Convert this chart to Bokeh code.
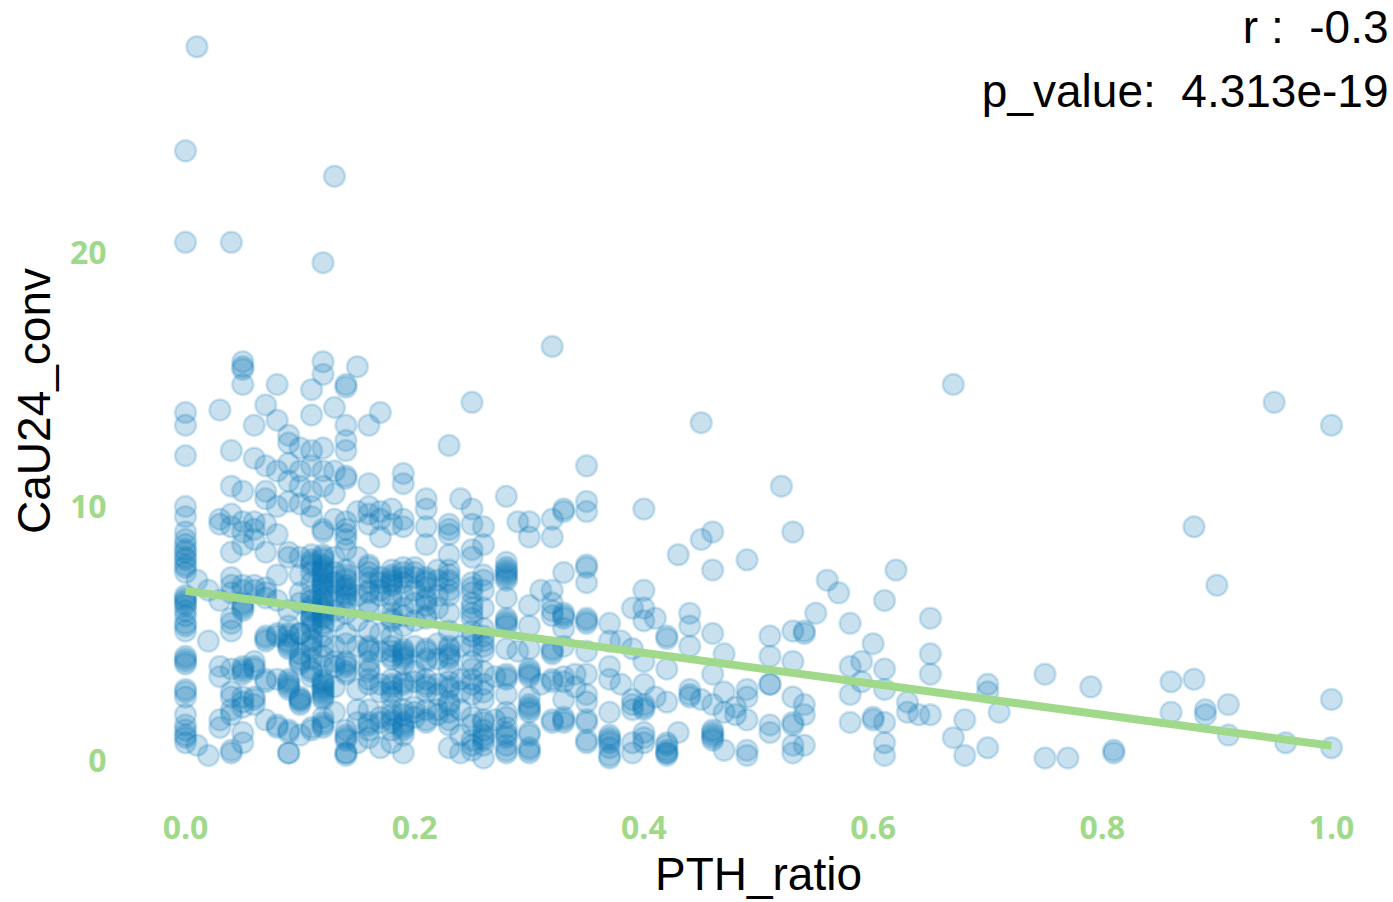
from bokeh.plotting import figure
from bokeh.models import ColumnDataSource, Label, FixedTicker, Range1d, NumeralTickFormatter
from bokeh.embed import file_html
from bokeh.resources import INLINE

pth_levels = [0.00,0.01,0.02,0.03,0.04,0.05,0.06,0.07,0.08,0.09,
              0.10,0.11,0.12,0.13,0.14,0.15,0.16,0.17,0.18,0.19,
              0.20,0.21,0.22,0.23,0.24,0.25,0.26,0.27,0.28,0.29,
              0.30,0.31,0.32,0.33,0.34,0.35,0.37,0.38,0.39,0.40,
              0.41,0.42,0.43,0.44,0.45,0.46,0.47,0.48,0.49,0.51,
              0.52,0.53,0.54,0.55,0.56,0.57,0.58,0.59,0.60,0.61,
              0.62,0.63,0.64,0.65,0.67,0.68,0.70,0.71,0.75,0.77,
              0.79,0.81,0.86,0.88,0.89,0.90,0.91,0.95,0.96,1.00]
cau24_by_level = [
 [24.0,20.4,13.7,13.2,12.0,10.0,9.6,9.0,8.7,8.5,8.3,8.0,7.7,7.4,6.5,6.3,6.1,5.7,5.4,5.1,4.1,3.9,2.8,2.5,1.8,1.4,1.0,0.7],
 [28.1,7.1,0.6],
 [6.7,4.7,0.2],
 [13.8,9.5,9.3,6.3,3.7,3.3,1.6,1.3],
 [20.4,12.2,10.8,9.7,9.2,8.2,7.2,6.9,6.6,5.6,5.1,3.6,2.7,2.0,1.8,0.4,0.3],
 [15.7,15.5,15.4,14.8,10.6,9.4,9.0,8.5,6.9,6.7,6.2,6.0,3.7,3.6,2.5,2.1,1.1,0.7],
 [13.2,11.9,9.4,9.1,8.7,6.9,6.7,3.9,2.4,2.2],
 [14.0,11.6,10.6,10.3,9.3,8.2,6.8,4.9,4.7,3.2,1.6],
 [14.8,13.4,11.4,10.0,8.9,7.3,6.3,5.0,3.2,1.4],
 [12.8,12.5,11.7,11.0,10.2,8.2,8.0,5.9,5.3,5.0,4.6,4.4,3.2,3.0,2.8,1.2,0.3,0.3],
 [12.3,11.4,10.8,10.1,8.0,7.3,6.6,6.2,5.0,4.0,3.8,2.4,2.2,1.0],
 [14.6,13.6,12.2,11.6,10.6,10.0,9.6,8.1,7.8,7.4,7.0,6.0,5.6,5.2,4.8,4.4,4.0,3.6,1.2],
 [19.6,15.7,15.2,12.3,11.4,10.8,9.1,9.0,8.0,7.7,7.5,7.3,7.1,6.9,6.7,6.3,5.9,5.7,5.3,4.9,4.5,4.1,3.7,3.1,2.8,2.5,1.7,1.3],
 [23.0,13.9,11.4,10.5,9.5,8.0,7.0,6.5,5.5,4.5,3.9,2.9],
 [14.8,14.7,13.2,12.6,12.2,11.2,11.1,9.4,9.1,8.9,8.7,8.3,7.2,6.8,6.6,6.2,5.8,5.0,4.6,3.7,3.5,1.0,0.8,0.3,0.2],
 [15.5,9.8,8.0,6.5,4.5,2.0,1.5,0.7],
 [13.2,10.9,10.0,9.7,9.3,7.6,7.2,6.6,6.2,5.1,4.5,4.3,3.5,3.2,1.5,1.2,0.9],
 [13.7,9.8,9.5,8.8,7.0,6.5,5.0,3.0,2.7,1.7,0.5],
 [9.9,9.3,7.5,7.2,7.0,6.5,5.8,5.5,4.3,4.0,3.0,2.7,2.0,1.6,0.7],
 [11.3,10.9,9.5,9.2,7.6,7.2,7.0,6.5,6.0,5.3,4.2,4.0,3.8,3.1,2.8,1.8,1.4,1.0,0.3],
 [7.6,7.4,6.7,5.5,4.5,2.1,1.7],
 [10.3,9.9,9.2,8.5,7.2,7.0,6.4,6.1,5.6,4.3,3.9,3.2,2.7,2.0,1.5],
 [7.5,6.5,4.0,3.0,2.0],
 [12.4,9.3,9.1,8.9,8.1,7.5,7.3,6.7,6.5,5.8,5.1,4.4,4.0,3.6,2.8,2.3,1.6,0.5],
 [10.3,3.2,2.0,0.3],
 [14.1,9.9,9.3,8.3,8.0,7.0,6.8,6.2,5.8,4.9,3.9,3.6,3.0,1.7,0.6,0.4],
 [9.2,8.5,7.3,7.1,6.7,6.0,5.2,4.7,4.3,3.0,2.4,1.6,1.5,0.9,0.8,0.1],
 [3.3,1.6],
 [10.4,7.8,7.6,7.4,7.2,7.1,6.4,5.6,5.4,5.3,4.4,3.3,3.2,2.6,1.7,1.3,1.1,0.9,0.4],
 [9.4,4.3],
 [9.4,8.8,6.1,5.3,4.4,3.6,3.4,3.3,2.5,2.2,2.0,1.0,0.4,0.3],
 [6.7,3.0],
 [16.3,9.5,8.8,6.7,6.2,5.9,4.3,4.2,3.2,1.6],
 [9.9,9.8,7.4,5.8,5.7,5.6,4.5,2.4,1.6,1.5],
 [3.4,2.9],
 [11.6,10.2,9.8,7.7,7.6,7.0,5.5,5.4,4.3,2.6,2.3,1.5,0.7],
 [5.4,4.7,3.7,3.2,1.9,0.9,0.8,0.5,0.1],
 [4.7,3.0],
 [6.0,4.4,2.4,2.0,0.7,0.3],
 [9.9,6.7,6.0,5.5,3.9,3.0,2.1,2.0,1.1,0.7],
 [5.6,2.5],
 [4.9,4.8,3.6,2.3,0.7,0.6,0.3,0.2],
 [8.1,1.1],
 [5.8,5.3,4.5,2.8,2.6],
 [13.3,8.7,2.4],
 [9.0,7.5,5.0,3.4,2.2,1.2,1.0,0.8],
 [4.2,2.7,1.9,0.4],
 [2.1,1.8],
 [7.9,2.8,2.5,1.6,0.4,0.2],
 [4.9,4.1,3.0,3.0,1.4,1.1],
 [10.8],
 [9.0,5.1,3.9,2.5,1.5,1.4,0.6,0.3],
 [5.1,5.0,2.2,1.8,0.6],
 [5.8],
 [7.1],
 [6.6],
 [5.4,3.7,2.6,1.5],
 [3.9,3.1],
 [4.6,1.7,1.6],
 [6.3,3.6,2.8,1.5,0.7,0.2],
 [7.5],
 [2.3,1.9],
 [1.8],
 [5.6,4.2,3.4,1.8],
 [14.8,0.9],
 [1.6,0.2],
 [3.0,2.7,0.5],
 [1.9],
 [3.4,0.1],
 [0.1],
 [2.9],
 [0.4,0.3],
 [3.1,1.9],
 [9.2,3.2],
 [2.0,1.8],
 [6.9],
 [2.2,1.0],
 [14.1],
 [0.7],
 [13.2,2.4,0.5],
]
dense_levels = [0.00,0.04,0.05,0.06,0.07,0.08,0.09,0.10,0.11,0.12,0.13,0.14,0.15,0.16,0.17,0.18,
                0.19,0.20,0.21,0.22,0.23,0.24,0.25,0.26,0.28,0.30,0.32,0.33,0.35,0.37,0.39,0.40,
                0.42,0.44,0.46]
dense_cau24 = [
 [8.2,7.9,7.6,6.4,6.2,5.9,5.3,4.0,3.8,2.7,1.2,0.9],
 [5.4,2.5],
 [6.1,5.9,3.5,3.4,2.3],
 [3.7,3.6,2.5],
 [6.6,6.4,4.8,3.1],
 [4.9,1.3],
 [4.9,4.7,4.5,3.1,2.9,1.1],
 [5.0,4.2,3.9,2.5,2.4,2.3],
 [7.9,7.7,6.5,6.3,6.1,5.9,5.7,5.5,5.3,4.7,4.5,3.5,3.3,1.3],
 [8.1,7.9,7.6,7.4,7.2,7.0,6.8,6.6,6.4,6.2,6.0,5.8,5.6,5.4,3.2,3.0,2.9,2.7,2.6,2.4,1.4,1.5],
 [7.4,5.9,3.7,1.9],
 [7.5,7.3,7.1,6.9,6.7,6.5,6.4,3.9,3.8,3.4,1.2,0.9,0.3],
 [5.5,2.8],
 [7.7,7.4,7.0,6.7,5.9,4.4,3.9,3.6,3.0,2.0,1.4],
 [7.2,6.7,4.3,1.5],
 [7.3,7.1,6.9,6.3,5.6,4.9,4.5,4.1,3.2,2.9,2.5,1.8,1.5,1.2],
 [7.4,5.7,4.4,4.3,4.1,3.0,2.0,1.5,1.3,1.2],
 [7.2,6.2,3.5,3.1,1.9],
 [7.1,6.8,6.3,5.7,4.4,4.0,3.0,2.9,1.6],
 [7.1,6.0,4.6,2.6,1.8],
 [7.1,7.0,4.5,4.2,4.1,3.1,2.9,2.2,1.9,1.4],
 [4.5,2.7,1.0],
 [6.6,6.0,5.6,5.1,4.5,3.2,2.6,1.4,0.8],
 [4.9,4.5,3.5,2.7,1.2,1.0,0.6],
 [7.5,7.3,5.5,3.4,1.9,1.0,0.6,0.3],
 [3.5,2.1,1.9,1.1,0.5],
 [5.7,4.4,3.1,1.5],
 [5.2,3.3,3.1,1.7],
 [5.6,3.4,1.6,0.8],
 [1.0,0.7,0.2],
 [2.2],
 [2.2,0.9],
 [0.4,0.3],
 [2.5],
 [1.1,0.9],
]
fit_x = [0.0, 1.0]
fit_y = [6.68, 0.58]
x_ticks = [0.0, 0.2, 0.4, 0.6, 0.8, 1.0]
y_ticks = [0, 10, 20]
x_title = "PTH_ratio"
y_title = "CaU24_conv"
stat_lines = ["r :\u00a0\u00a0-0.3", "p_value:\u00a0\u00a04.313e-19"]

xs = [x for lv, cs in ((pth_levels, cau24_by_level), (dense_levels, dense_cau24))
      for x, col in zip(lv, cs) for _ in col]
ys = [y for cs in (cau24_by_level, dense_cau24) for col in cs for y in col]

BLUE = "#0b78b8"
GREEN = "#a0d98a"
FONT = "Liberation Sans"

p = figure(width=1393, height=902, output_backend="svg", toolbar_location=None,
           x_range=Range1d(-0.0541, 1.0541), y_range=Range1d(-1.614, 29.92),
           min_border_left=123, min_border_right=0, min_border_top=0, min_border_bottom=98,
           outline_line_color=None)
p.xgrid.visible = False
p.ygrid.visible = False

p.scatter(x="x", y="y", source=ColumnDataSource(dict(x=xs, y=ys)), size=21,
          fill_color=BLUE, fill_alpha=0.22, line_color=BLUE, line_alpha=0.2, line_width=2.5)
p.line(fit_x, fit_y, line_color=GREEN, line_width=8)

for ax, ticks, title in ((p.xaxis, x_ticks, x_title), (p.yaxis, y_ticks, y_title)):
    ax.ticker = FixedTicker(ticks=ticks)
    ax.axis_line_color = None
    ax.major_tick_line_color = None
    ax.minor_tick_line_color = None
    ax.major_label_text_color = GREEN
    ax.major_label_text_font = "Open Sans"
    ax.major_label_text_font_style = "bold"
    ax.major_label_text_font_size = "32px"
    ax.axis_label = title
    ax.axis_label_text_color = "#000000"
    ax.axis_label_text_font = FONT
    ax.axis_label_text_font_style = "normal"
    ax.axis_label_text_font_size = "46px"

p.xaxis.formatter = NumeralTickFormatter(format="0.0")
p.xaxis.major_label_standoff = 8
p.xaxis.axis_label_standoff = 6
p.yaxis.major_label_standoff = 11
p.yaxis.axis_label_standoff = 7

for text, sy in zip(stat_lines, (775, 711)):
    p.add_layout(Label(x=1265, y=sy, x_units="screen", y_units="screen", text=text,
                       text_align="right", text_baseline="middle",
                       text_font=FONT, text_font_size="46px", text_color="#000000"))

open("out.html", "w").write(file_html(p, INLINE))
